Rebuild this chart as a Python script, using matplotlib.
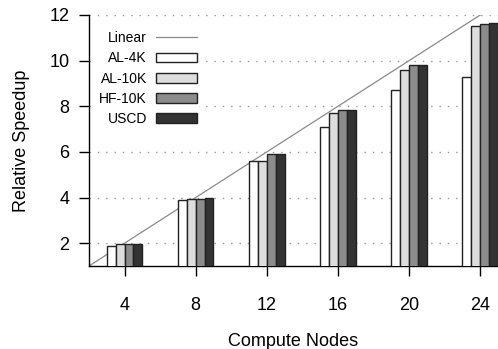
import numpy as np
import matplotlib
matplotlib.use('Agg')
import matplotlib.pyplot as plt

# Data
nodes = [4, 8, 12, 16, 20, 24]
al_4k = [1.88, 3.88, 5.59, 7.10, 8.73, 9.29]
al_10k = [1.95, 3.95, 5.59, 7.70, 9.60, 11.53]
hf_10k = [1.97, 3.95, 5.91, 7.84, 9.79, 11.60]
uscd = [1.98, 3.98, 5.93, 7.84, 9.79, 11.64]
linear_x = [2, 24]
linear_y = [1, 12]

series = [('AL-4K', al_4k, '#ffffff'),
          ('AL-10K', al_10k, '#dddddd'),
          ('HF-10K', hf_10k, '#8c8c8c'),
          ('USCD', uscd, '#333333')]

plt.rcParams['font.family'] = ['Liberation Sans', 'DejaVu Sans']
plt.rcParams['font.size'] = 13

fig = plt.figure(figsize=(4.98, 3.49), dpi=100)
ax = fig.add_axes([89 / 498, 83 / 349, 409 / 498, 251 / 349])

ax.plot(linear_x, linear_y, color='#8a8a8a', lw=0.9, label='Linear', zorder=2)

x = np.array(nodes, dtype=float)
w = 0.5
for i, (name, vals, col) in enumerate(series):
    ax.bar(x + (i - 1.5) * w, vals, width=w, color=col, edgecolor='#222222',
           linewidth=1.0, label=name, zorder=3)

ax.set_xlim(2, 25)
ax.set_ylim(1, 12)
ax.set_xticks(nodes)
ax.set_yticks([2, 4, 6, 8, 10, 12])
ax.yaxis.grid(True, color='#999999', linestyle=(0, (1, 5)), linewidth=1.0, zorder=0)
ax.set_axisbelow(True)

for s in ['top', 'right']:
    ax.spines[s].set_visible(False)
for s in ['left', 'bottom']:
    ax.spines[s].set_linewidth(1.0)
ax.tick_params(axis='both', direction='out', length=7, width=1.0, labelsize=13)
ax.tick_params(axis='x', pad=15)
ax.tick_params(axis='y', pad=7)

ax.set_xlabel('Compute Nodes', fontsize=13, labelpad=14)
ax.set_ylabel('Relative Speedup', fontsize=13, labelpad=14)

leg = ax.legend(loc='upper left', bbox_to_anchor=(97 / 498, 1 - 29 / 349),
                bbox_transform=fig.transFigure, markerfirst=False,
                frameon=True, fancybox=False, framealpha=1.0,
                handlelength=2.95, handletextpad=0.65, labelspacing=0.45,
                borderpad=0.15, borderaxespad=0, fontsize=10)
leg.get_frame().set_edgecolor('none')
leg.get_frame().set_facecolor('white')
for t in leg.get_texts():
    t.set_ha('right')

fig.savefig('out.png', dpi=100)
